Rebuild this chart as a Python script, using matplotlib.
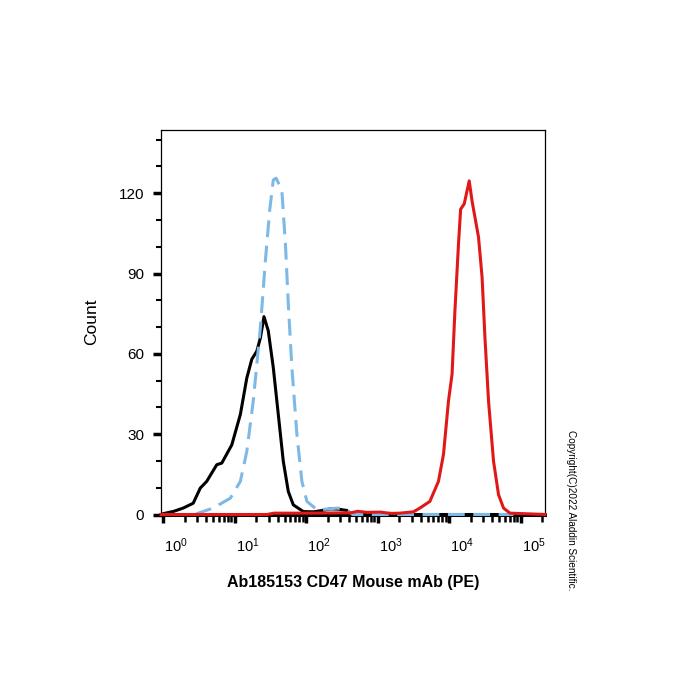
import numpy as np
import matplotlib
matplotlib.use('Agg')
import matplotlib.pyplot as plt
from matplotlib.ticker import LogLocator, NullFormatter, MultipleLocator
from matplotlib.transforms import ScaledTranslation

plt.rcParams['font.family'] = ['Liberation Sans', 'DejaVu Sans']
plt.rcParams['mathtext.fontset'] = 'custom'
plt.rcParams['mathtext.rm'] = 'Liberation Sans'
plt.rcParams['mathtext.it'] = 'Liberation Sans:italic'
plt.rcParams['mathtext.bf'] = 'Liberation Sans:bold'

# Curves: x as decade exponent (log10 of PE signal), y as count
black_log = [-0.03, 0.0, 0.15, 0.28, 0.42, 0.52, 0.61, 0.75, 0.82, 0.96, 1.08, 1.17, 1.24,
             1.31, 1.36, 1.41, 1.47, 1.54, 1.61, 1.68, 1.75, 1.82, 1.96, 2.10, 2.20, 2.34,
             2.45, 2.57, 2.62, 3.0, 4.0, 5.34]
black_cnt = [0, 0.3, 1.2, 2.4, 4.2, 9.9, 12.4, 18.6, 19.2, 26, 37.4, 51, 58,
             61, 66, 73.9, 68.6, 54.9, 37.4, 19.9, 8.6, 3.6, 1.1, 1.0, 1.4, 2.1,
             2.0, 1.5, 0, 0, 0, 0]

blue_log = [0.45, 0.49, 0.70, 0.94, 1.08, 1.17, 1.26, 1.36, 1.43, 1.49, 1.54, 1.58, 1.66,
            1.71, 1.75, 1.80, 1.87, 1.94, 2.01, 2.15, 2.30, 2.43, 2.57, 2.65, 3.5, 4.9]
blue_cnt = [0, 0.5, 2.4, 6.1, 12.4, 23.6, 42.4, 69.9, 94.9, 113.6, 124.9, 125.6, 121,
            101, 78.7, 54.9, 30, 12.4, 4.9, 1.8, 2.0, 2.4, 1.8, 0, 0, 0]

red_log = [-0.03, 1.45, 1.55, 2.0, 2.5, 2.62, 2.72, 2.85, 3.04, 3.12, 3.2, 3.31, 3.50,
           3.59, 3.73, 3.85, 3.92, 3.99, 4.04, 4.08, 4.13, 4.16, 4.21, 4.28, 4.32, 4.41,
           4.46, 4.50, 4.55, 4.62, 4.69, 4.76, 4.85, 5.34]
red_cnt = [0, 0, 0.5, 0.5, 0.6, 0.6, 1.2, 0.8, 0.9, 0.6, 0.4, 0.5, 1.0,
           2.4, 4.9, 12.4, 22.4, 42.4, 52.4, 76, 101, 114, 116, 124.6, 117, 103.6,
           88.6, 66, 42.4, 19.9, 7.4, 2.4, 0.5, 0]

x_label = 'Ab185153 CD47 Mouse mAb (PE)'
y_label = 'Count'
y_ticks = [0, 30, 60, 90, 120]

fig = plt.figure(figsize=(7, 7), dpi=100)
ax = fig.add_axes([0.23, 0.265, 0.5486, 0.5493])

ax.plot(10 ** np.array(black_log), black_cnt, color='black', lw=2.2, clip_on=False, zorder=3)
ax.plot(10 ** np.array(blue_log), blue_cnt, color='#7db9e6', lw=2.2, dashes=(5.5, 2.8),
        clip_on=False, zorder=4)
ax.plot(10 ** np.array(red_log), red_cnt, color='#e01818', lw=2.2, clip_on=False, zorder=5)

ax.set_xscale('log')
ax.set_xlim(10 ** -0.03, 10 ** 5.34)
ax.set_ylim(0, 143.6)

ax.set_xticks([10 ** k for k in range(6)])
ax.set_xticklabels([r'$10^{%d}$' % k for k in range(6)], fontsize=10.5)
ax.xaxis.set_minor_locator(LogLocator(base=10, subs=np.arange(2, 10), numticks=20))
ax.xaxis.set_minor_formatter(NullFormatter())

ax.set_yticks(y_ticks)
ax.set_yticklabels([str(v) for v in y_ticks], fontsize=11)
ax.yaxis.set_minor_locator(MultipleLocator(10))

ax.tick_params(axis='both', which='major', direction='out', length=6, width=2.5,
               color='black', pad=6)
ax.tick_params(axis='x', which='minor', direction='out', length=5, width=1.8, color='black')
ax.tick_params(axis='y', which='minor', direction='out', length=3.5, width=1.5, color='black')
ax.tick_params(axis='x', which='major', pad=10)

# labels in the reference sit a little right of their decade ticks
for tick in ax.xaxis.get_major_ticks():
    tick.label1.set_transform(tick.label1.get_transform() +
                              ScaledTranslation(0.13, 0, fig.dpi_scale_trans))

for s in ['top', 'right', 'left']:
    ax.spines[s].set_linewidth(0.9)
ax.spines['bottom'].set_linewidth(2.2)

ax.set_xlabel(x_label, fontsize=11.5, fontweight='bold', labelpad=14)
ax.set_ylabel(y_label, fontsize=12.5, labelpad=14)

fig.text(0.815, 1 - 430 / 700, 'Copyright(C)2022 Aladdin Scientific.', rotation=-90,
         fontsize=7.2, ha='center', va='top')

fig.savefig('out.png', dpi=100)
